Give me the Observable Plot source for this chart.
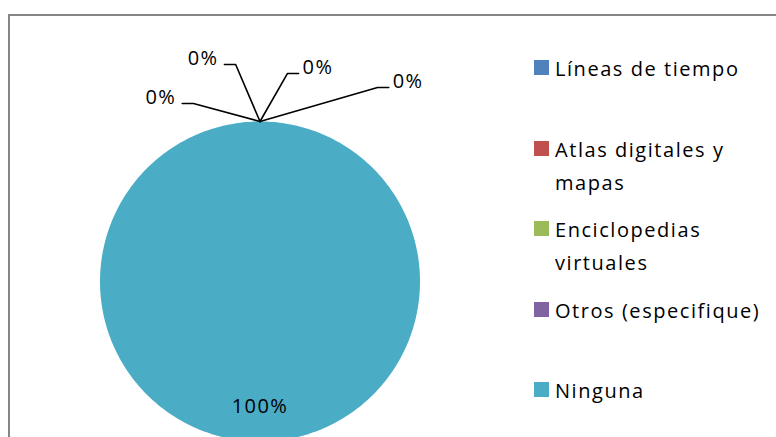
<!DOCTYPE html>
<html>
<head>
<meta charset="utf-8">
<script src="https://cdn.jsdelivr.net/npm/d3@7"></script>
<script src="https://cdn.jsdelivr.net/npm/@observablehq/plot@0.6"></script>
<style>
  html, body { margin: 0; padding: 0; background: #fff; width: 776px; height: 437px; overflow: hidden; }
  #wrap { position: relative; width: 776px; height: 437px; overflow: hidden; }
  #border { position: absolute; left: 8px; top: 14px; width: 900px; height: 600px;
            border-left: 2px solid #868686; border-top: 2px solid #868686; }
  #chart { position: absolute; left: 0; top: 0; }
  #legend { position: absolute; left: 534px; top: 52px;
            font-family: "Open Sans", sans-serif; font-size: 20px; letter-spacing: 1.55px;
            line-height: 33px; color: #000; }
  .item { display: flex; align-items: flex-start; height: 80.5px; }
  .sw { width: 15px; height: 15px; margin-top: 8px; margin-right: 6px; flex: none; }
  .lab { width: 220px; }
</style>
</head>
<body>
<div id="wrap">
  <div id="border"></div>
  <div id="chart"></div>
  <div id="legend"></div>
</div>
<script>
// ---- data ----
const categories = ["Líneas de tiempo", "Atlas digitales y mapas", "Enciclopedias virtuales", "Otros (especifique)", "Ninguna"];
const values = [0, 0, 0, 0, 100];
const percentLabels = ["0%", "0%", "0%", "0%", "100%"];
const colors = ["#4F81BD", "#C0504D", "#9BBB59", "#8064A2", "#4BACC6"];

// ---- layout ----
const W = 776, H = 437;
const cx = 259.5, cy = 281, R = 160;          // pie centre and radius in pixels
// leader-line elbows for the zero slices: angle (deg, clockwise from top), distance (radii), tail direction
const leaderLayout = [
  {angle: -20.5, dist: 1.188, dir: -1},
  {angle: -6.4,  dist: 1.365, dir: -1},
  {angle: 7.5,   dist: 1.311, dir: 1},
  {angle: 31.2,  dist: 1.418, dir: 1}
];
const tail = 0.07;          // horizontal tail length (radii)
const insideRadius = 0.78;  // radius of an inside label (radii)

const rows = categories.map((c, i) => ({cat: c, value: values[i], label: percentLabels[i]}));
const arcs = d3.pie().sort(null).value(d => d.value)(rows);

// slice outlines
const piePts = arcs.flatMap(a => {
  const n = Math.max(2, Math.ceil((a.endAngle - a.startAngle) / (Math.PI / 180)));
  const pts = [{cat: a.data.cat, x: 0, y: 0}];
  for (let i = 0; i <= n; i++) {
    const t = a.startAngle + (a.endAngle - a.startAngle) * i / n;
    pts.push({cat: a.data.cat, x: Math.sin(t), y: Math.cos(t)});
  }
  return pts;
});

// labels
const leaderPts = [];
const outLabels = [];
const inLabels = [];
let k = 0;
arcs.forEach(a => {
  const mid = (a.startAngle + a.endAngle) / 2;
  if (a.data.value === 0) {
    const L = leaderLayout[k++];
    const ang = L.angle * Math.PI / 180;
    const ex = Math.sin(ang) * L.dist, ey = Math.cos(ang) * L.dist;
    const tx = ex + L.dir * tail;
    leaderPts.push({cat: a.data.cat, x: Math.sin(mid), y: Math.cos(mid)});
    leaderPts.push({cat: a.data.cat, x: ex, y: ey});
    leaderPts.push({cat: a.data.cat, x: tx, y: ey});
    outLabels.push({x: tx, y: ey, label: a.data.label, dir: L.dir});
  } else {
    inLabels.push({x: Math.sin(mid) * insideRadius, y: Math.cos(mid) * insideRadius, label: a.data.label});
  }
});

const chart = Plot.plot({
  width: W, height: H,
  margin: 0,
  style: {fontFamily: "'Open Sans', sans-serif", letterSpacing: "1.4px", background: "transparent", overflow: "hidden"},
  x: {domain: [-cx / R, (W - cx) / R], range: [0, W], axis: null},
  y: {domain: [-(H - cy) / R, cy / R], range: [H, 0], axis: null},
  color: {domain: categories, range: colors},
  marks: [
    Plot.line(piePts, {x: "x", y: "y", z: "cat", fill: "cat", stroke: null, curve: "linear"}),
    Plot.line(leaderPts, {x: "x", y: "y", z: "cat", stroke: "#000", strokeWidth: 1.6}),
    Plot.text(outLabels.filter(d => d.dir < 0), {x: "x", y: "y", text: "label", textAnchor: "end", dx: -6, dy: -6, fontSize: 20, fill: "#000"}),
    Plot.text(outLabels.filter(d => d.dir > 0), {x: "x", y: "y", text: "label", textAnchor: "start", dx: 4, dy: -6, fontSize: 20, fill: "#000"}),
    Plot.text(inLabels, {x: "x", y: "y", text: "label", fontSize: 20, fill: "#000"})
  ]
});
document.getElementById("chart").appendChild(chart);

// legend
const legend = document.getElementById("legend");
categories.forEach((c, i) => {
  const item = document.createElement("div");
  item.className = "item";
  const sw = document.createElement("div");
  sw.className = "sw";
  sw.style.background = colors[i];
  const lab = document.createElement("div");
  lab.className = "lab";
  lab.textContent = c;
  item.appendChild(sw);
  item.appendChild(lab);
  legend.appendChild(item);
});
</script>
</body>
</html>
